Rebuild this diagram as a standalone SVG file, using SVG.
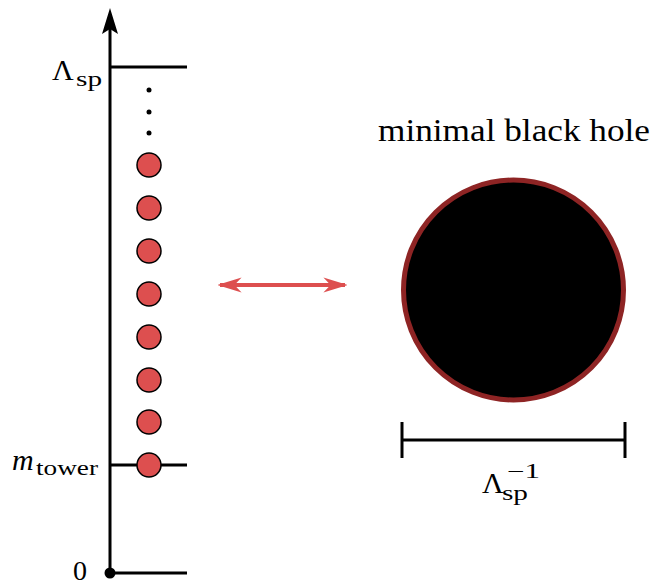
<svg xmlns="http://www.w3.org/2000/svg" width="651" height="586" viewBox="0 0 651 586">
<style>
.ln{stroke:#000;stroke-width:3;fill:none}
.st{fill:#dd4f4f;stroke:#000;stroke-width:1.5}
.dt{fill:#000}
text{fill:#000;font-family:'Liberation Serif','DejaVu Serif',serif}
</style>
<defs>
<marker id="ah" viewBox="0 0 10 10" refX="9" refY="5" markerWidth="6" markerHeight="3.8" orient="auto-start-reverse" markerUnits="strokeWidth" preserveAspectRatio="none">
<path d="M0,0 L10,5 L0,10 L3,5 Z" fill="#dd4f4f"/>
</marker>
</defs>
<g id="axis">
<line class="ln" x1="110" y1="573" x2="110" y2="28"/>
<path d="M110,8 L118,34 L110,29 L102,34 Z" fill="#000"/>
<circle cx="110" cy="573" r="5.5" fill="#000"/>
</g>
<g id="level-lsp">
<line class="ln" x1="110" y1="67" x2="187" y2="67"/>
<text x="52" y="80" font-size="30">Λ</text>
<text x="76" y="86" font-size="22" textLength="26" lengthAdjust="spacingAndGlyphs">sp</text>
</g>
<g id="level-mtower">
<line class="ln" x1="110" y1="465" x2="187" y2="465"/>
<text x="12" y="470" font-size="30" font-style="italic">m</text>
<text x="36" y="475" font-size="22" textLength="62" lengthAdjust="spacingAndGlyphs">tower</text>
</g>
<g id="level-zero">
<line class="ln" x1="110" y1="573" x2="187" y2="573"/>
<text x="73" y="580" font-size="28">0</text>
</g>
<g id="dots">
<circle class="dt" cx="149" cy="90" r="2.5"/>
<circle class="dt" cx="149" cy="112" r="2.5"/>
<circle class="dt" cx="149" cy="133" r="2.5"/>
</g>
<g id="states">
<circle class="st" cx="149" cy="165" r="12"/>
<circle class="st" cx="149" cy="208" r="12"/>
<circle class="st" cx="149" cy="251" r="12"/>
<circle class="st" cx="149" cy="294" r="12"/>
<circle class="st" cx="149" cy="337" r="12"/>
<circle class="st" cx="149" cy="380" r="12"/>
<circle class="st" cx="149" cy="422" r="12"/>
<circle class="st" cx="149" cy="465" r="12"/>
</g>
<g id="connectors">
<line x1="220" y1="285" x2="345" y2="285" stroke="#dd4f4f" stroke-width="4" marker-start="url(#ah)" marker-end="url(#ah)"/>
</g>
<g id="black-hole">
<text x="514" y="141" font-size="31" text-anchor="middle" textLength="272" lengthAdjust="spacingAndGlyphs">minimal black hole</text>
<circle cx="513.5" cy="290" r="110" fill="#000" stroke="#8e2424" stroke-width="5"/>
</g>
<g id="size-bar">
<line class="ln" x1="402" y1="440" x2="625" y2="440" stroke-width="4"/>
<line class="ln" x1="402" y1="422" x2="402" y2="458" stroke-width="4"/>
<line class="ln" x1="625" y1="422" x2="625" y2="458" stroke-width="4"/>
<text x="482" y="493" font-size="30">Λ</text>
<text x="502" y="500" font-size="20" textLength="26" lengthAdjust="spacingAndGlyphs">sp</text>
<text x="507" y="478" font-size="20" textLength="33" lengthAdjust="spacingAndGlyphs">−1</text>
</g>
</svg>
